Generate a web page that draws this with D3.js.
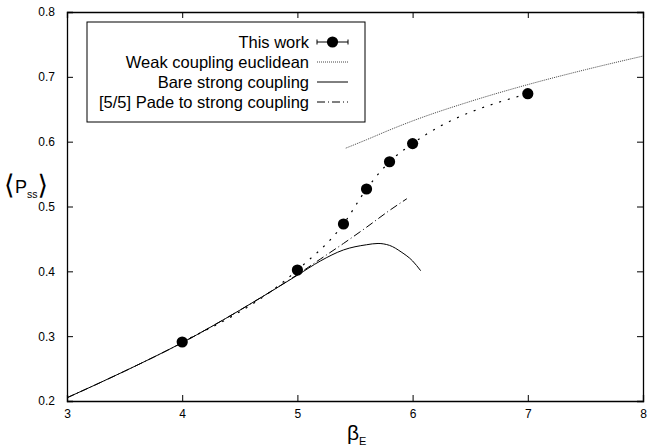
<!DOCTYPE html>
<html>
<head>
<meta charset="utf-8">
<script src="https://cdn.jsdelivr.net/npm/d3@7"></script>
<style>
  body { margin: 0; background: #fff; }
  svg text { font-family: "Liberation Sans", Arial, sans-serif; }
</style>
</head>
<body>
<div id="chart"></div>
<script>
const width = 659
const height = 447
const margin = {left: 67, right: 16, top: 12, bottom: 46}

// This work (lattice points)
const workBeta = [4, 5, 5.4, 5.6, 5.8, 6, 7]
const workP = [0.291, 0.402, 0.473, 0.527, 0.569, 0.597, 0.674]

// Weak coupling euclidean
const weakBeta = [5.42, 5.6, 5.8, 6, 6.5, 7, 7.5, 8]
const weakP = [0.590, 0.603, 0.618, 0.632, 0.662, 0.688, 0.711, 0.732]

// Bare strong coupling
const bareBeta = [3, 3.5, 4, 4.5, 5, 5.2, 5.4, 5.6, 5.7, 5.8, 5.9, 6, 6.07]
const bareP = [0.205, 0.246, 0.290, 0.340, 0.394, 0.416, 0.433, 0.441, 0.443, 0.440, 0.430, 0.416, 0.401]

// [5/5] Pade to strong coupling
const padeBeta = [3, 3.5, 4, 4.5, 5, 5.2, 5.4, 5.6, 5.8, 5.95]
const padeP = [0.205, 0.246, 0.290, 0.340, 0.395, 0.419, 0.443, 0.468, 0.494, 0.512]

const xTicks = [3, 4, 5, 6, 7, 8]
const yTicks = [0.2, 0.3, 0.4, 0.5, 0.6, 0.7, 0.8]

const legendLabels = ['This work', 'Weak coupling euclidean', 'Bare strong coupling', '[5/5] Pade to strong coupling']

const svg = d3.select('#chart')
    .append('svg')
    .attr('width', width)
    .attr('height', height)

const x = d3.scaleLinear().domain([3, 8]).range([margin.left, width - margin.right])
const y = d3.scaleLinear().domain([0.2, 0.8]).range([height - margin.bottom, margin.top])

// Axes, ticks pointing inward on all four sides
svg.append('g')
    .attr('transform', `translate(0, ${y(0.2)})`)
    .call(d3.axisBottom(x).tickValues(xTicks).tickSize(-6).tickPadding(8).tickFormat(d3.format('d')))
svg.append('g')
    .attr('transform', `translate(0, ${y(0.8)})`)
    .call(d3.axisTop(x).tickValues(xTicks).tickSize(-6).tickFormat(''))
svg.append('g')
    .attr('transform', `translate(${x(3)}, 0)`)
    .call(d3.axisLeft(y).tickValues(yTicks).tickSize(-6).tickPadding(12).tickFormat(d3.format('.1f')))
svg.append('g')
    .attr('transform', `translate(${x(8)}, 0)`)
    .call(d3.axisRight(y).tickValues(yTicks).tickSize(-6).tickFormat(''))

svg.selectAll('.domain').attr('stroke', '#000').attr('stroke-width', 1.3)
svg.selectAll('.tick line').attr('stroke', '#000')
svg.selectAll('.tick text').attr('font-size', 12).attr('fill', '#000')
    .attr('font-family', '"Liberation Sans", Arial, sans-serif')

const line = d3.line().x(d => x(d[0])).y(d => y(d[1])).curve(d3.curveMonotoneX)
const zip = (a, b) => a.map((v, i) => [v, b[i]])

// Curves
svg.append('path')
    .attr('d', line(zip(bareBeta, bareP)))
    .attr('fill', 'none').attr('stroke', '#000').attr('stroke-width', 1)
svg.append('path')
    .attr('d', line(zip(padeBeta, padeP)))
    .attr('fill', 'none').attr('stroke', '#000').attr('stroke-width', 1)
    .attr('stroke-dasharray', '8,3,1,3')
svg.append('path')
    .attr('d', line(zip(weakBeta, weakP)))
    .attr('fill', 'none').attr('stroke', '#444').attr('stroke-width', 1)
    .attr('stroke-dasharray', '1,1')
svg.append('path')
    .attr('d', line(zip(workBeta, workP)))
    .attr('fill', 'none').attr('stroke', '#000').attr('stroke-width', 1.2)
    .attr('stroke-dasharray', '2,7')

// Points
svg.selectAll('circle.pt')
    .data(zip(workBeta, workP))
    .enter()
    .append('circle')
    .attr('class', 'pt')
    .attr('cx', d => x(d[0]))
    .attr('cy', d => y(d[1]))
    .attr('r', 5.6)
    .attr('fill', '#000')

// Legend
const lg = svg.append('g')
lg.append('rect')
    .attr('x', 87).attr('y', 22).attr('width', 278).attr('height', 100)
    .attr('fill', '#fff').attr('stroke', '#000').attr('stroke-width', 1)
const rowY = i => 42 + i * 20
legendLabels.forEach((label, i) => {
    lg.append('text')
        .attr('x', 309).attr('y', rowY(i))
        .attr('dy', '0.35em')
        .attr('text-anchor', 'end')
        .attr('font-size', 16.5)
        .text(label)
})
const lx0 = 317, lx1 = 348
lg.append('line').attr('x1', lx0).attr('x2', lx1).attr('y1', rowY(0)).attr('y2', rowY(0)).attr('stroke', '#000')
lg.append('line').attr('x1', lx0).attr('x2', lx0).attr('y1', rowY(0) - 2.5).attr('y2', rowY(0) + 2.5).attr('stroke', '#000')
lg.append('line').attr('x1', lx1).attr('x2', lx1).attr('y1', rowY(0) - 2.5).attr('y2', rowY(0) + 2.5).attr('stroke', '#000')
lg.append('circle').attr('cx', (lx0 + lx1) / 2).attr('cy', rowY(0)).attr('r', 5.6).attr('fill', '#000')
lg.append('line').attr('x1', lx0).attr('x2', lx1).attr('y1', rowY(1)).attr('y2', rowY(1))
    .attr('stroke', '#444').attr('stroke-dasharray', '1,1')
lg.append('line').attr('x1', lx0).attr('x2', lx1).attr('y1', rowY(2)).attr('y2', rowY(2)).attr('stroke', '#000')
lg.append('line').attr('x1', lx0).attr('x2', lx1).attr('y1', rowY(3)).attr('y2', rowY(3))
    .attr('stroke', '#000').attr('stroke-dasharray', '8,3,1,3')

// Axis labels
const xl = svg.append('text')
    .attr('x', 347).attr('y', 440)
    .attr('font-size', 21)
xl.append('tspan').text('β')
xl.append('tspan').attr('font-size', 11).attr('dy', 5).text('E')

const yl = svg.append('text')
    .attr('x', 4).attr('y', 194)
yl.append('tspan').attr('font-family', '"DejaVu Sans", sans-serif').attr('font-size', 27).attr('font-weight', 200).text('⟨')
yl.append('tspan').attr('font-size', 18).attr('dy', -1).text('P')
yl.append('tspan').attr('font-size', 10.5).attr('dy', 5).text('ss')
yl.append('tspan').attr('font-family', '"DejaVu Sans", sans-serif').attr('font-size', 27).attr('dy', -4).text('⟩')
</script>
</body>
</html>
